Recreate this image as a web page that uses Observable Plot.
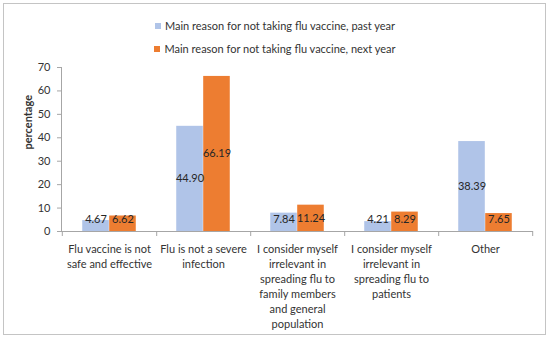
<!DOCTYPE html>
<html>
<head>
<meta charset="utf-8">
<script src="https://cdn.jsdelivr.net/npm/d3@7"></script>
<script src="https://cdn.jsdelivr.net/npm/@observablehq/plot@0.6"></script>
<style>
  body { margin: 0; background: #fff; font-family: Lato, "Open Sans", sans-serif; }
  #wrap { position: relative; width: 550px; height: 339px; overflow: hidden; }
  #frame { position: absolute; left: 3px; top: 3px; width: 541px; height: 330px; border: 1px solid #c4c4c4; box-sizing: content-box; }
  #legend { position: absolute; left: 0; top: 14px; width: 550px; font-size: 11px; color: #333; }
  .item { position: relative; height: 23px; display: flex; align-items: center; justify-content: center; }
  .sw { display: inline-block; width: 6px; height: 6px; margin-right: 4px; }
  #chart { position: absolute; left: 0; top: 0; }
</style>
</head>
<body>
<div id="wrap">
  <div id="frame"></div>
  <div id="legend"></div>
  <div id="chart"></div>
</div>
<script>
const categories = [
  "Flu vaccine is not\nsafe and effective",
  "Flu is not a severe\ninfection",
  "I consider myself\nirrelevant in\nspreading flu to\nfamily members\nand general\npopulation",
  "I consider myself\nirrelevant in\nspreading flu to\npatients",
  "Other"
];
const pastYear = [4.67, 44.90, 7.84, 4.21, 38.39];
const nextYear = [6.62, 66.19, 11.24, 8.29, 7.65];
const seriesNames = [
  "Main reason for not taking flu vaccine, past year",
  "Main reason for not taking flu vaccine, next year"
];
const colors = ["#B0C4E8", "#ED7D31"];
const yTicks = [0, 10, 20, 30, 40, 50, 60, 70];

const W = 550, H = 339, ML = 61, MR = 17, MT = 67, MB = 108;
const bw = (W - ML - MR) / categories.length;
const barW = bw / 3.5;
const gap = barW * 0.75;

const past = categories.map((c, i) => ({cat: c, v: pastYear[i]}));
const next = categories.map((c, i) => ({cat: c, v: nextYear[i]}));
const labelY = d => Math.max(d.v / 2, 5.1);

const plot = Plot.plot({
  width: W, height: H,
  marginLeft: ML, marginRight: MR, marginTop: MT, marginBottom: MB,
  style: {fontFamily: "Lato, sans-serif", fontSize: "11px", color: "#404040", background: "transparent"},
  x: {domain: categories, padding: 0, axis: null},
  y: {domain: [0, 70], axis: null},
  marks: [
    Plot.barY(past, {x: "cat", y: "v", fill: colors[0], insetLeft: gap, insetRight: bw - gap - barW}),
    Plot.barY(next, {x: "cat", y: "v", fill: colors[1], insetLeft: gap + barW, insetRight: gap}),
    Plot.ruleY([0], {stroke: "#a6a6a6"}),
    Plot.frame({anchor: "left", stroke: "#a6a6a6"}),
    Plot.axisY({ticks: yTicks, tickSize: 4, tickPadding: 7, stroke: "#a6a6a6", fill: "#333", fontSize: 11, label: null}),
    Plot.axisX({ticks: categories, text: null, tickSize: 5, dx: bw / 2, stroke: "#a6a6a6", label: null}),
    Plot.axisX({ticks: [categories[0]], text: null, tickSize: 5, dx: -bw / 2, stroke: "#a6a6a6", label: null}),
    Plot.text(categories, {x: d => d, frameAnchor: "bottom", lineAnchor: "top", dy: 11, lineHeight: 1.36, fill: "#333", fontSize: 11}),
    Plot.text(past, {x: "cat", y: labelY, text: d => d.v.toFixed(2), dx: -barW / 2, fill: "#262626", fontSize: 11}),
    Plot.text(next, {x: "cat", y: labelY, text: d => d.v.toFixed(2), dx: barW / 2, fill: "#262626", fontSize: 11}),
    Plot.text(["percentage"], {frameAnchor: "left", rotate: -90, dx: -33, fontWeight: "bold", fill: "#333", fontSize: 11})
  ]
});
document.getElementById("chart").appendChild(plot);

const legend = document.getElementById("legend");
seriesNames.forEach((name, i) => {
  const row = document.createElement("div");
  row.className = "item";
  const sw = document.createElement("span");
  sw.className = "sw";
  sw.style.background = colors[i];
  row.appendChild(sw);
  row.appendChild(document.createTextNode(name));
  legend.appendChild(row);
});
</script>
</body>
</html>
